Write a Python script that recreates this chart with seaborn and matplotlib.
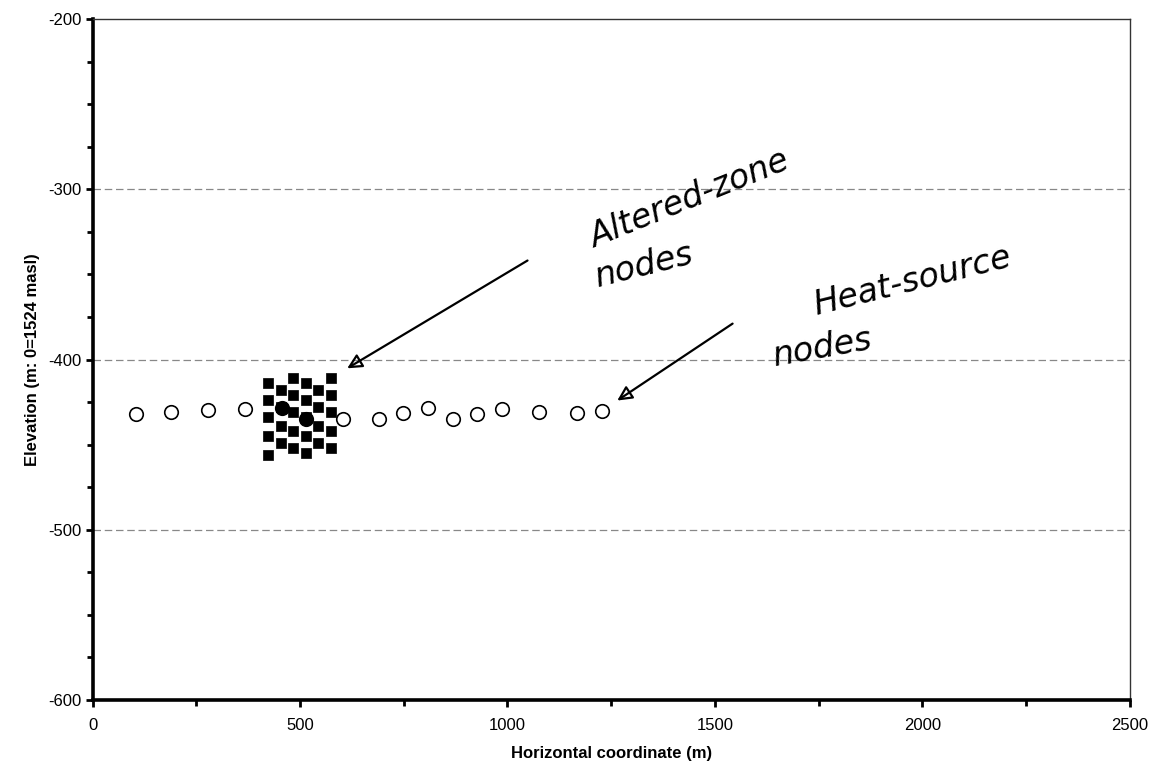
import numpy as np
import pandas as pd
import matplotlib
matplotlib.use("Agg")
import matplotlib.pyplot as plt
from matplotlib.ticker import MultipleLocator
import seaborn as sns

# Heat-source nodes (open circles)
heat_x = [105, 189, 278, 367, 457, 515, 604, 690, 748, 808, 869, 926, 987, 1076, 1167, 1228]
heat_y = [-431.8, -430.6, -429.4, -428.8, -428.2, -434.7, -434.7, -434.7, -431.2, -428.2,
          -434.7, -431.8, -428.8, -430.6, -431.2, -430.0]

# Altered-zone nodes (filled squares)
alt_x = ([423] * 5 + [454] * 4 + [483] * 5 + [514] * 5 + [543] * 4 + [575] * 5)
alt_y = ([-414, -424, -434, -445, -456] +
         [-418, -428, -439, -449] +
         [-411, -421, -431, -442, -452] +
         [-414, -424, -434, -445, -455] +
         [-418, -428, -439, -449] +
         [-411, -421, -431, -442, -452])

x_major = [0, 500, 1000, 1500, 2000, 2500]
y_major = [-600, -500, -400, -300, -200]
x_label = "Horizontal coordinate (m)"
y_label = "Elevation (m: 0=1524 masl)"

sns.set_style("ticks")
plt.rcParams['font.family'] = ['Liberation Sans', 'DejaVu Sans']
plt.rcParams['axes.unicode_minus'] = False
plt.rcParams['text.color'] = 'black'
plt.rcParams['axes.labelcolor'] = 'black'
plt.rcParams['xtick.color'] = 'black'
plt.rcParams['ytick.color'] = 'black'
plt.rcParams['xtick.labelcolor'] = 'black'
plt.rcParams['ytick.labelcolor'] = 'black'

fig = plt.figure(figsize=(11.51, 7.63), dpi=100)
ax = fig.add_axes([0.0804, 0.0826, 0.9013, 0.8924])

heat = pd.DataFrame({"x": heat_x, "y": heat_y})
inside = (heat["x"] >= min(alt_x)) & (heat["x"] <= max(alt_x))
alt = pd.DataFrame({"x": alt_x, "y": alt_y})

sns.scatterplot(data=heat[~inside], x="x", y="y", ax=ax, marker="o", s=95,
                facecolor="white", edgecolor="black", linewidth=1.2, zorder=3)
sns.scatterplot(data=alt, x="x", y="y", ax=ax, marker="s", s=48,
                color="black", edgecolor="black", linewidth=0.5, zorder=4)
sns.scatterplot(data=heat[inside], x="x", y="y", ax=ax, marker="o", s=95,
                color="black", edgecolor="black", linewidth=1.2, zorder=5)

ax.set_xlim(0, 2500)
ax.set_ylim(-600, -200)
ax.set_xticks(x_major)
ax.set_yticks(y_major)
ax.xaxis.set_minor_locator(MultipleLocator(250))
ax.yaxis.set_minor_locator(MultipleLocator(25))
ax.tick_params(axis="both", which="major", direction="out", length=5, width=2,
               labelsize=12, color="black", labelcolor="black")
ax.tick_params(axis="both", which="minor", direction="out", length=4, width=2, color="black")
ax.tick_params(axis="x", pad=8)
ax.tick_params(axis="y", pad=3)

for v in [-300, -400, -500]:
    ax.axhline(v, color="#888888", linewidth=0.9, linestyle=(0, (6, 3)), zorder=1)

for side in ["left", "bottom"]:
    ax.spines[side].set_linewidth(2.6)
    ax.spines[side].set_color("black")
for side in ["top", "right"]:
    ax.spines[side].set_visible(True)
    ax.spines[side].set_linewidth(1.0)
    ax.spines[side].set_color("#333333")

ax.set_xlabel(x_label, fontsize=12, fontweight="bold", labelpad=9, color="black")
ax.set_ylabel(y_label, fontsize=12, fontweight="bold", labelpad=6, color="black")

# Handwritten annotations
hand = dict(fontsize=24, fontstyle="italic", color="black", family=["DejaVu Sans"])
ax.text(1440, -306, "Altered-zone", rotation=22, ha="center", va="center", **hand)
ax.text(1330, -345, "nodes", rotation=14, ha="center", va="center", **hand)
ax.text(1975, -354, "Heat-source", rotation=14, ha="center", va="center", **hand)
ax.text(1760, -393, "nodes", rotation=10, ha="center", va="center", **hand)
ax.annotate("", xy=(608, -406), xytext=(1054, -341),
            arrowprops=dict(arrowstyle="-|>", color="black", lw=1.6,
                            mutation_scale=22, fill=False))
ax.annotate("", xy=(1259, -425), xytext=(1548, -378),
            arrowprops=dict(arrowstyle="-|>", color="black", lw=1.6,
                            mutation_scale=22, fill=False))

fig.savefig("out.png", dpi=100, facecolor="white")
